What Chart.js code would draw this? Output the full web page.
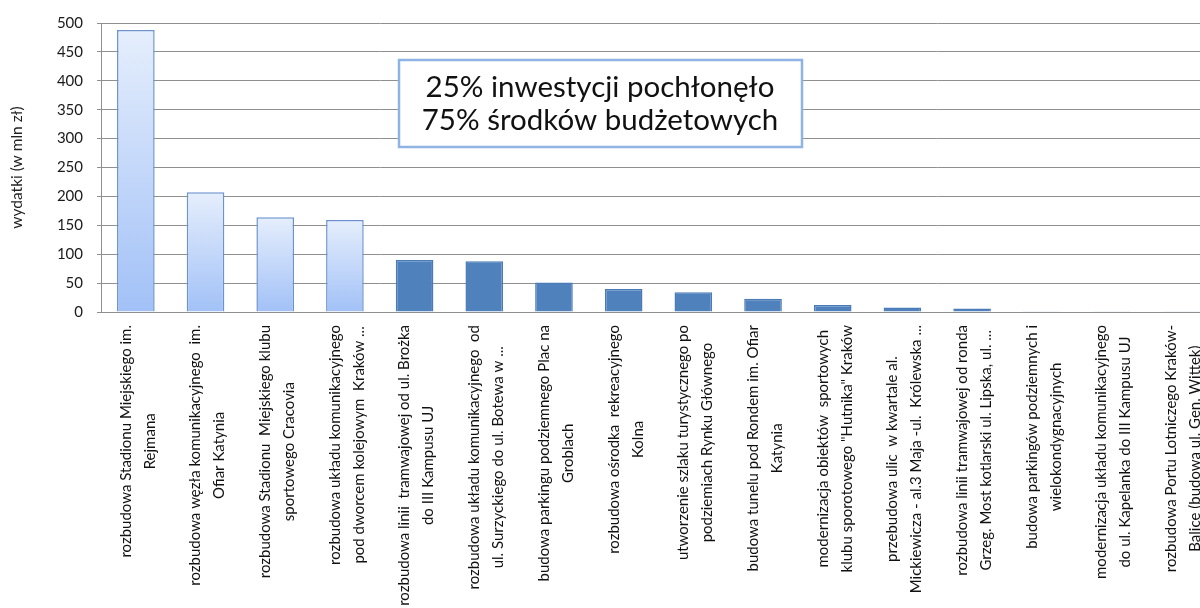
<!DOCTYPE html>
<html lang="pl">
<head>
<meta charset="utf-8">
<title>Wydatki inwestycyjne</title>
<script src="https://cdn.jsdelivr.net/npm/chart.js@4.4.1/dist/chart.umd.min.js"></script>
<style>
    html, body { margin: 0; padding: 0; background: #fff; overflow: hidden; }
    #wrap { position: relative; width: 1216px; height: 608px; }
</style>
</head>
<body>
<div id="wrap"><canvas id="spendChart"></canvas></div>
<script>
const projectLabels = [
    ['rozbudowa Stadionu Miejskiego im.', 'Rejmana'],
    ['rozbudowa węzła komunikacyjnego  im.', 'Ofiar Katynia'],
    ['rozbudowa Stadionu  Miejskiego klubu', 'sportowego Cracovia'],
    ['rozbudowa układu komunikacyjnego', 'pod dworcem kolejowym  Kraków ...'],
    ['rozbudowa linii  tramwajowej od ul. Brożka', 'do III Kampusu UJ'],
    ['rozbudowa układu komunikacyjnego  od', 'ul. Surzyckiego do ul. Botewa w ...'],
    ['budowa parkingu podziemnego Plac na', 'Groblach'],
    ['rozbudowa ośrodka  rekreacyjnego', 'Kolna'],
    ['utworzenie szlaku turystycznego po', 'podziemiach Rynku Głównego'],
    ['budowa tunelu pod Rondem im. Ofiar', 'Katynia'],
    ['modernizacja obiektów  sportowych', 'klubu sporotowego "Hutnika" Kraków'],
    ['przebudowa ulic  w kwartale al.', 'Mickiewicza - al.3 Maja -ul.  Królewska ...'],
    ['rozbudowa linii tramwajowej od ronda', 'Grzeg. Most kotlarski ul. Lipska, ul. ...'],
    ['budowa parkingów podziemnych i', 'wielokondygnacyjnych'],
    ['modernizacja układu komunikacyjnego', 'do ul. Kapelanka do III Kampusu UJ'],
    ['rozbudowa Portu Lotniczego Kraków-', 'Balice (budowa ul. Gen. Wittek)']
];
const spending = [488, 207, 164, 159, 90, 88, 51, 40, 34, 23, 12, 8, 6, 0.5, 0.5, 0.5];
const highlightedCount = 4;   // first bars use the pale gradient
const noteLines = ['25% inwestycji pochłonęło', '75% środków budżetowych'];
const axisTitle = 'wydatki (w mln zł)';

document.addEventListener('DOMContentLoaded', function() {
    const FONT = 'Lato, "Open Sans", sans-serif';

    function barFill(context) {
        if (context.dataIndex >= highlightedCount) return '#4F81BD';
        const chart = context.chart;
        const yScale = chart.scales.y;
        if (!chart.chartArea || !yScale) return '#C5D8F9';
        const top = yScale.getPixelForValue(context.raw);
        const bottom = yScale.getPixelForValue(0);
        const grad = chart.ctx.createLinearGradient(0, top, 0, bottom);
        grad.addColorStop(0, '#E5EEFC');
        grad.addColorStop(1, '#A2C1F7');
        return grad;
    }

    // category labels: rotated, lines centred within the block (like the spreadsheet)
    const categoryLabels = {
        id: 'categoryLabels',
        afterDraw(chart) {
            const ctx = chart.ctx;
            const xScale = chart.scales.x;
            const top = chart.chartArea.bottom + 13;
            const lineHeight = 24;
            ctx.save();
            ctx.font = '15px ' + FONT;
            ctx.fillStyle = '#111';
            ctx.textAlign = 'center';
            ctx.textBaseline = 'middle';
            projectLabels.forEach(function(lines, i) {
                const x = xScale.getPixelForValue(i) + 2;
                const maxW = Math.max.apply(null, lines.map(l => ctx.measureText(l).width));
                ctx.save();
                ctx.translate(x, top + maxW / 2);
                ctx.rotate(-Math.PI / 2);
                lines.forEach(function(line, j) {
                    ctx.fillText(line, 0, (j - (lines.length - 1) / 2) * lineHeight);
                });
                ctx.restore();
            });
            ctx.restore();
        }
    };

    const noteBox = {
        id: 'noteBox',
        afterDraw(chart) {
            const ctx = chart.ctx;
            ctx.save();
            ctx.fillStyle = '#fff';
            ctx.fillRect(399, 60, 403, 87);
            ctx.strokeStyle = '#8EB4E3';
            ctx.lineWidth = 2.5;
            ctx.strokeRect(399, 60, 403, 87);
            ctx.fillStyle = '#111';
            ctx.font = '29.5px ' + FONT;
            ctx.textAlign = 'center';
            ctx.textBaseline = 'middle';
            ctx.fillText(noteLines[0], 600, 87);
            ctx.fillText(noteLines[1], 600, 120);
            ctx.restore();
        }
    };

    new Chart(document.getElementById('spendChart').getContext('2d'), {
        type: 'bar',
        data: {
            labels: projectLabels.map(l => l.join(' ')),
            datasets: [{
                data: spending,
                backgroundColor: barFill,
                borderColor: ctx => ctx.dataIndex < highlightedCount ? '#6C93CF' : '#4A7BB7',
                borderWidth: 1.5,
                categoryPercentage: 1,
                barPercentage: 0.54
            }]
        },
        options: {
            responsive: true,
            maintainAspectRatio: false,
            animation: false,
            layout: { padding: { top: 17, right: 0, bottom: 0, left: 0 } },
            plugins: {
                legend: { display: false },
                tooltip: { enabled: false }
            },
            scales: {
                x: {
                    grid: { display: false },
                    border: { color: '#8f8f8f' },
                    ticks: { display: false },
                    afterFit(scale) { scale.height = 296; }
                },
                y: {
                    min: 0,
                    max: 500,
                    ticks: {
                        stepSize: 50,
                        color: '#1a1a1a',
                        padding: 14,
                        font: { family: FONT, size: 15 }
                    },
                    grid: { color: '#8f8f8f', lineWidth: 1, tickLength: 4 },
                    border: { color: '#8f8f8f' },
                    title: {
                        display: true,
                        text: axisTitle,
                        color: '#222',
                        font: { family: FONT, size: 15.5 },
                        padding: { top: 8, bottom: 0 }
                    },
                    afterFit(scale) { scale.width = 101; }
                }
            }
        },
        plugins: [categoryLabels, noteBox]
    });
});
</script>
</body>
</html>
